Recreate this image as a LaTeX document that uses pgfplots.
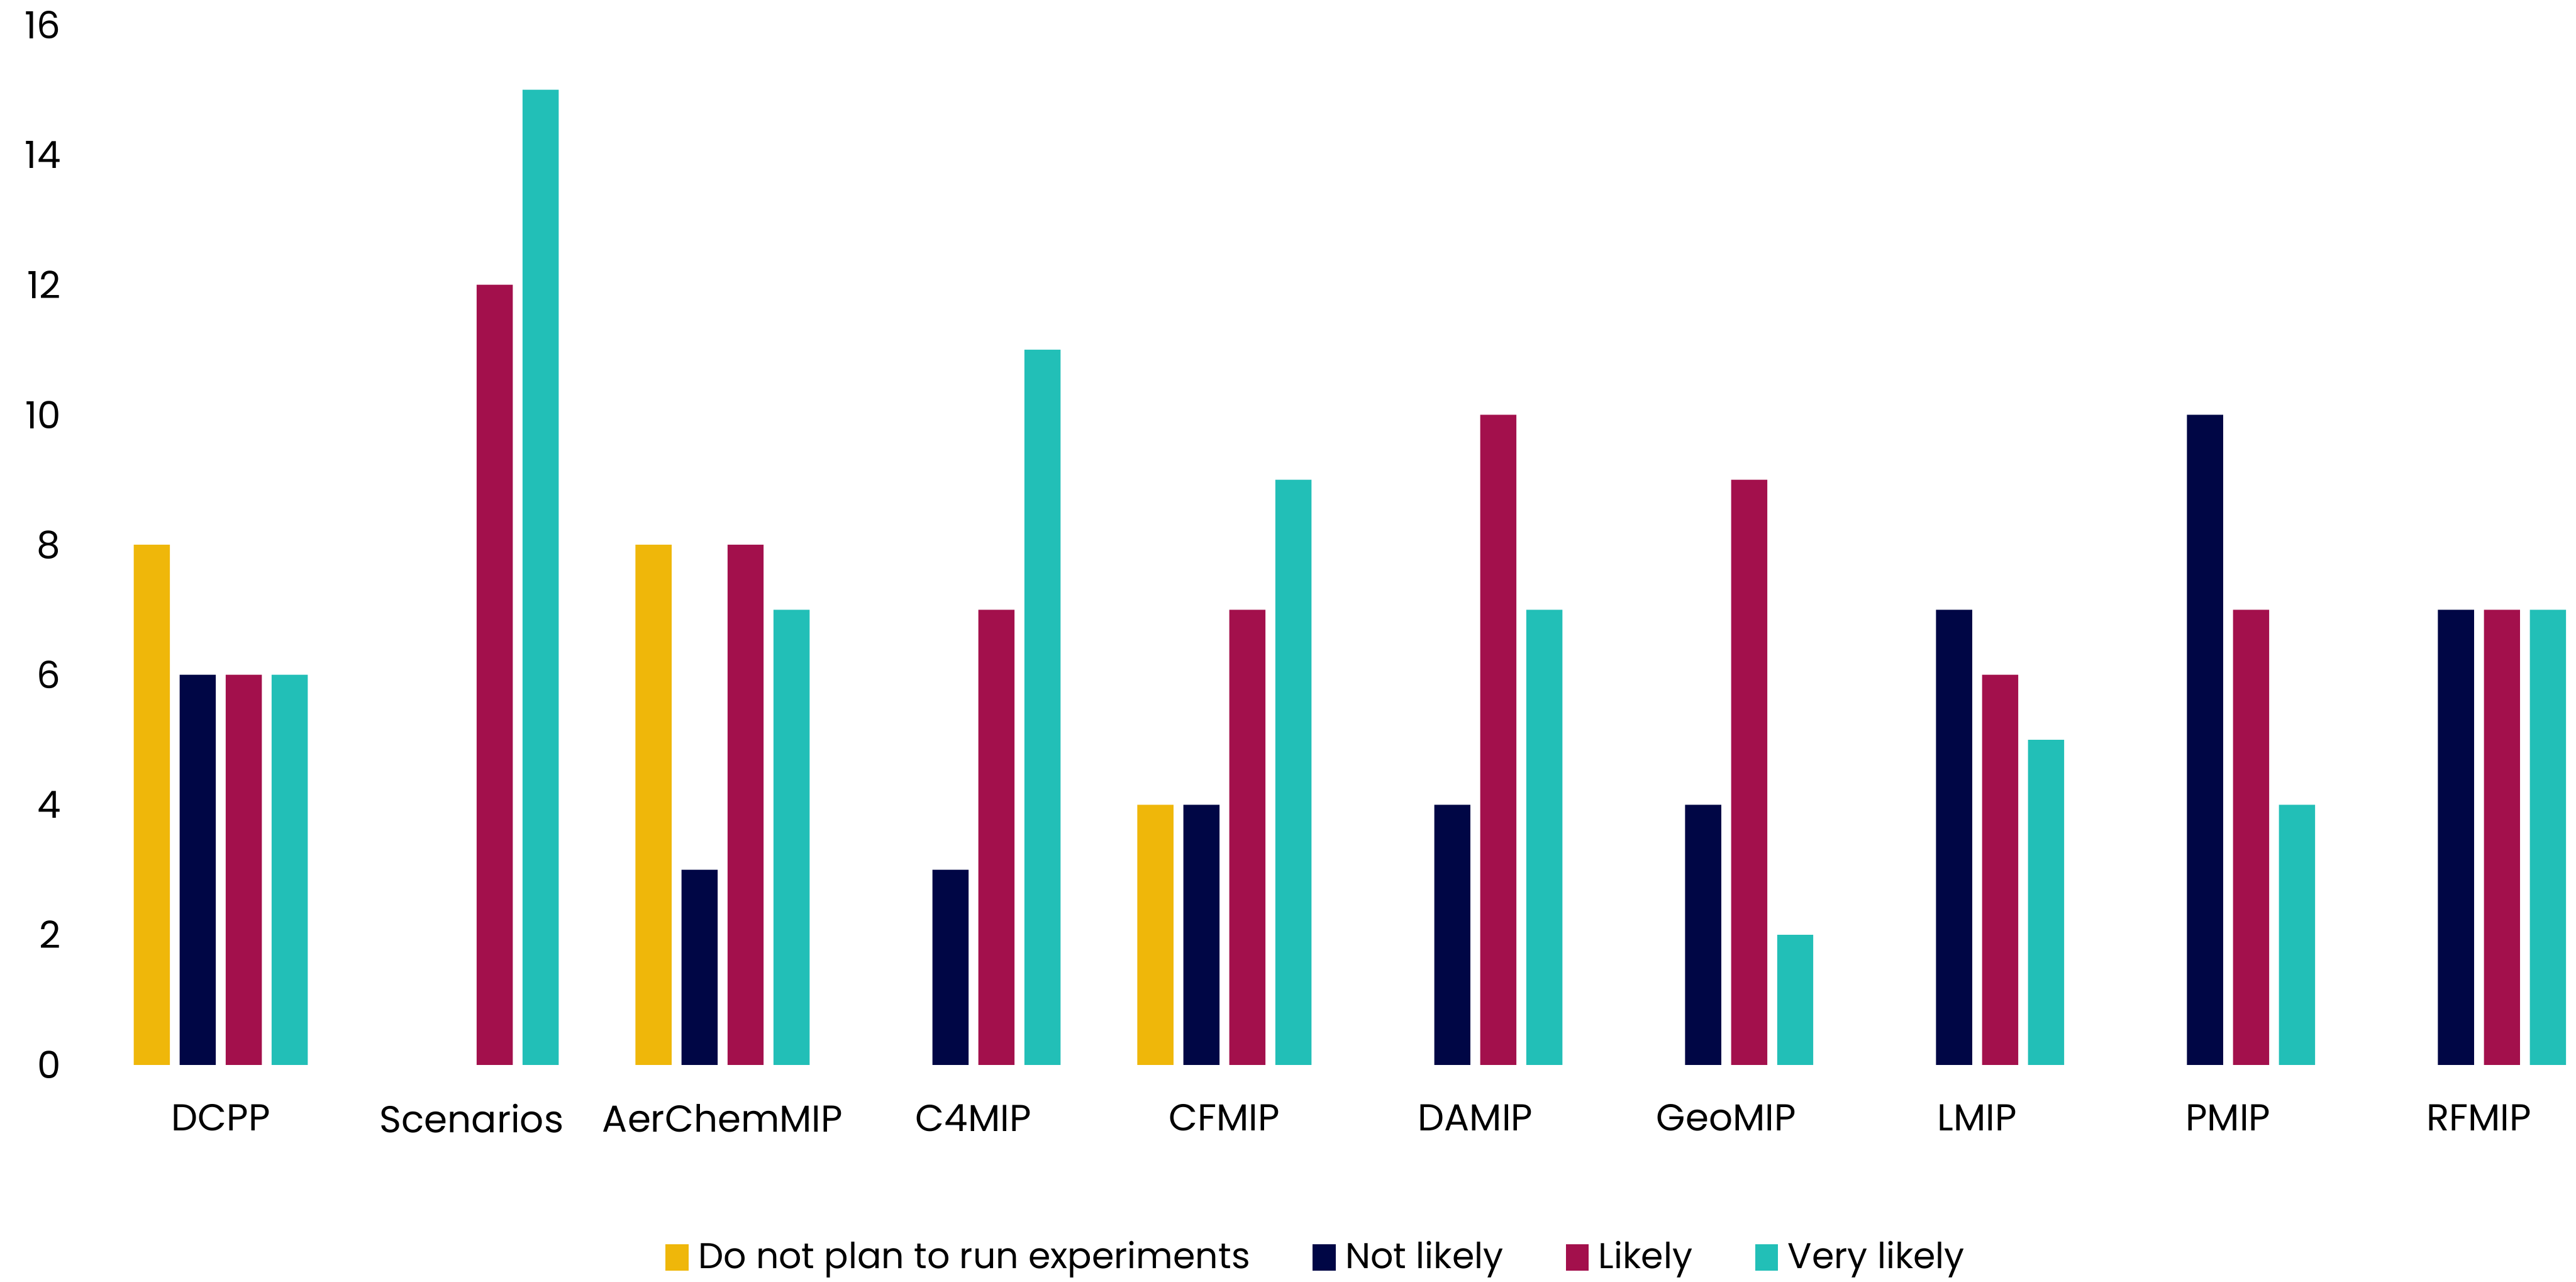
\documentclass[border=0pt]{standalone}
\usepackage{pgfplots}
\pgfplotsset{compat=1.18}
\usepackage{fontspec}
\setmainfont{Poppins}
\usetikzlibrary{calc}
\definecolor{cyel}{HTML}{EFB70A}
\definecolor{cnavy}{HTML}{000645}
\definecolor{cred}{HTML}{A3104C}
\definecolor{cteal}{HTML}{22BFB7}
\begin{document}
\begin{tikzpicture}
\begin{axis}[
  scale only axis,
  width=756pt, height=316.5pt,
  xmin=-0.5, xmax=9.4,
  ymin=0, ymax=16,
  ytick={0,2,...,16},
  xtick={0,...,9},
  xticklabels={DCPP,Scenarios,AerChemMIP,C4MIP,CFMIP,DAMIP,GeoMIP,LMIP,PMIP,RFMIP},
  axis line style={draw=none},
  major tick length=0pt,
  tick style={draw=none},
  font=\fontsize{11.4}{13}\selectfont,
  /pgf/number format/assume math mode=true,
  yticklabel style={xshift=-7pt},
  xticklabel style={yshift=-8.5pt},
  bar width=11pt,
  legend columns=4,
  legend style={draw=none, at={(0.493,-0.185)}, anchor=center,
    /tikz/every even column/.append style={column sep=16pt},
    font=\fontsize{10.9}{13}\selectfont,
    nodes={inner xsep=3pt}},
  legend image code/.code={\fill[#1, draw=none] (0pt,-4pt) rectangle (7pt,4pt);},
]
\addplot[ybar, bar shift=-21pt, fill=cyel, draw=none] coordinates {(0,8) (2,8) (4,4)};
\addlegendentry{Do not plan to run experiments}
\addplot[ybar, bar shift=-7pt, fill=cnavy, draw=none] coordinates {(0,6) (2,3) (3,3) (4,4) (5,4) (6,4) (7,7) (8,10) (9,7)};
\addlegendentry{Not likely}
\addplot[ybar, bar shift=7pt, fill=cred, draw=none] coordinates {(0,6) (1,12) (2,8) (3,7) (4,7) (5,10) (6,9) (7,6) (8,7) (9,7)};
\addlegendentry{Likely}
\addplot[ybar, bar shift=21pt, fill=cteal, draw=none] coordinates {(0,6) (1,15) (2,7) (3,11) (4,9) (5,7) (6,2) (7,5) (8,4) (9,7)};
\addlegendentry{Very likely}
\end{axis}
\pgfresetboundingbox
\path ($(current axis.south west)+(-29pt,-66pt)$) rectangle ($(current axis.north east)+(-1pt,7.5pt)$);
\end{tikzpicture}
\end{document}
